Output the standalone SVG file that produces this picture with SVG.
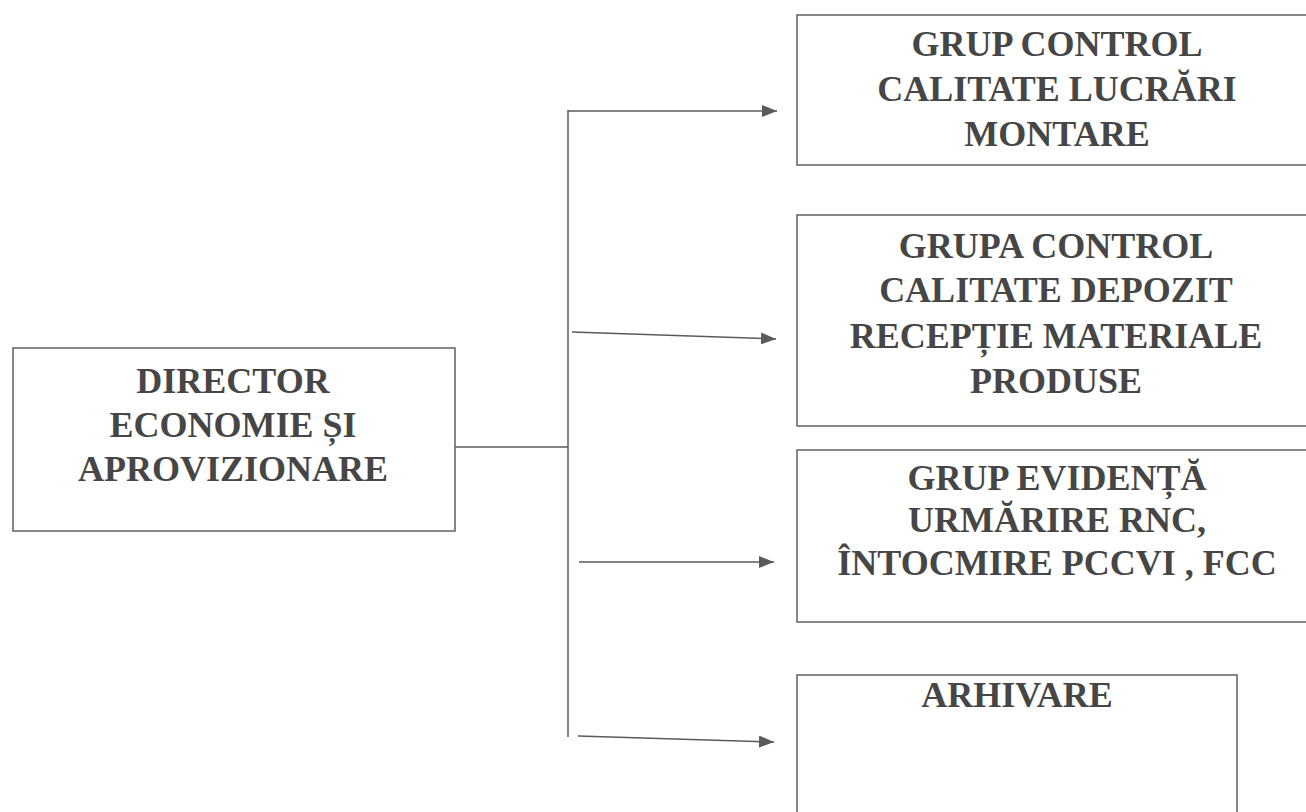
<svg xmlns="http://www.w3.org/2000/svg" width="1306" height="812" viewBox="0 0 1306 812">
  <style>
    .box { fill: #ffffff; stroke: #6a6a6a; stroke-width: 1.6; }
    .lbl { font-family: "Liberation Serif", "Times New Roman", serif; font-size: 36px; font-weight: bold; fill: #464646; text-anchor: middle; }
    .conn { stroke: #5a5a5a; stroke-width: 1.5; fill: none; }
  </style>
  <defs>
    <marker id="arrow" markerUnits="userSpaceOnUse" markerWidth="16" markerHeight="12" refX="15" refY="6" orient="auto">
      <path d="M0,0 L15,6 L0,12 z" fill="#5a5a5a"/>
    </marker>
  </defs>
  <rect x="0" y="0" width="1306" height="812" fill="#ffffff"/>

  <g id="connectors">
    <line class="conn" x1="455" y1="447" x2="568" y2="447"/>
    <line class="conn" x1="568" y1="110" x2="568" y2="737"/>
    <line class="conn" x1="568" y1="111" x2="777" y2="111" marker-end="url(#arrow)"/>
    <line class="conn" x1="572" y1="332" x2="776" y2="339" marker-end="url(#arrow)"/>
    <line class="conn" x1="579" y1="562" x2="774" y2="562" marker-end="url(#arrow)"/>
    <line class="conn" x1="578" y1="736" x2="774" y2="742" marker-end="url(#arrow)"/>
  </g>

  <g id="director">
    <rect class="box" x="13" y="348" width="442" height="183"/>
    <text class="lbl" x="233" y="393">DIRECTOR</text>
    <text class="lbl" x="233" y="437">ECONOMIE ȘI</text>
    <text class="lbl" x="233" y="481">APROVIZIONARE</text>
  </g>

  <g id="grup-control-lucrari">
    <rect class="box" x="797" y="15" width="530" height="150"/>
    <text class="lbl" x="1057" y="56">GRUP CONTROL</text>
    <text class="lbl" x="1057" y="101">CALITATE LUCRĂRI</text>
    <text class="lbl" x="1057" y="146">MONTARE</text>
  </g>

  <g id="grupa-control-depozit">
    <rect class="box" x="797" y="215" width="530" height="211"/>
    <text class="lbl" x="1056" y="258">GRUPA CONTROL</text>
    <text class="lbl" x="1056" y="302">CALITATE DEPOZIT</text>
    <text class="lbl" x="1056" y="348">RECEPȚIE MATERIALE</text>
    <text class="lbl" x="1056" y="393">PRODUSE</text>
  </g>

  <g id="grup-evidenta">
    <rect class="box" x="797" y="450" width="530" height="172"/>
    <text class="lbl" x="1057" y="490">GRUP EVIDENȚĂ</text>
    <text class="lbl" x="1057" y="532">URMĂRIRE RNC,</text>
    <text class="lbl" x="1057" y="575">ÎNTOCMIRE PCCVI , FCC</text>
  </g>

  <g id="arhivare">
    <rect class="box" x="797" y="675" width="440" height="160"/>
    <text class="lbl" x="1017" y="707">ARHIVARE</text>
  </g>
</svg>
